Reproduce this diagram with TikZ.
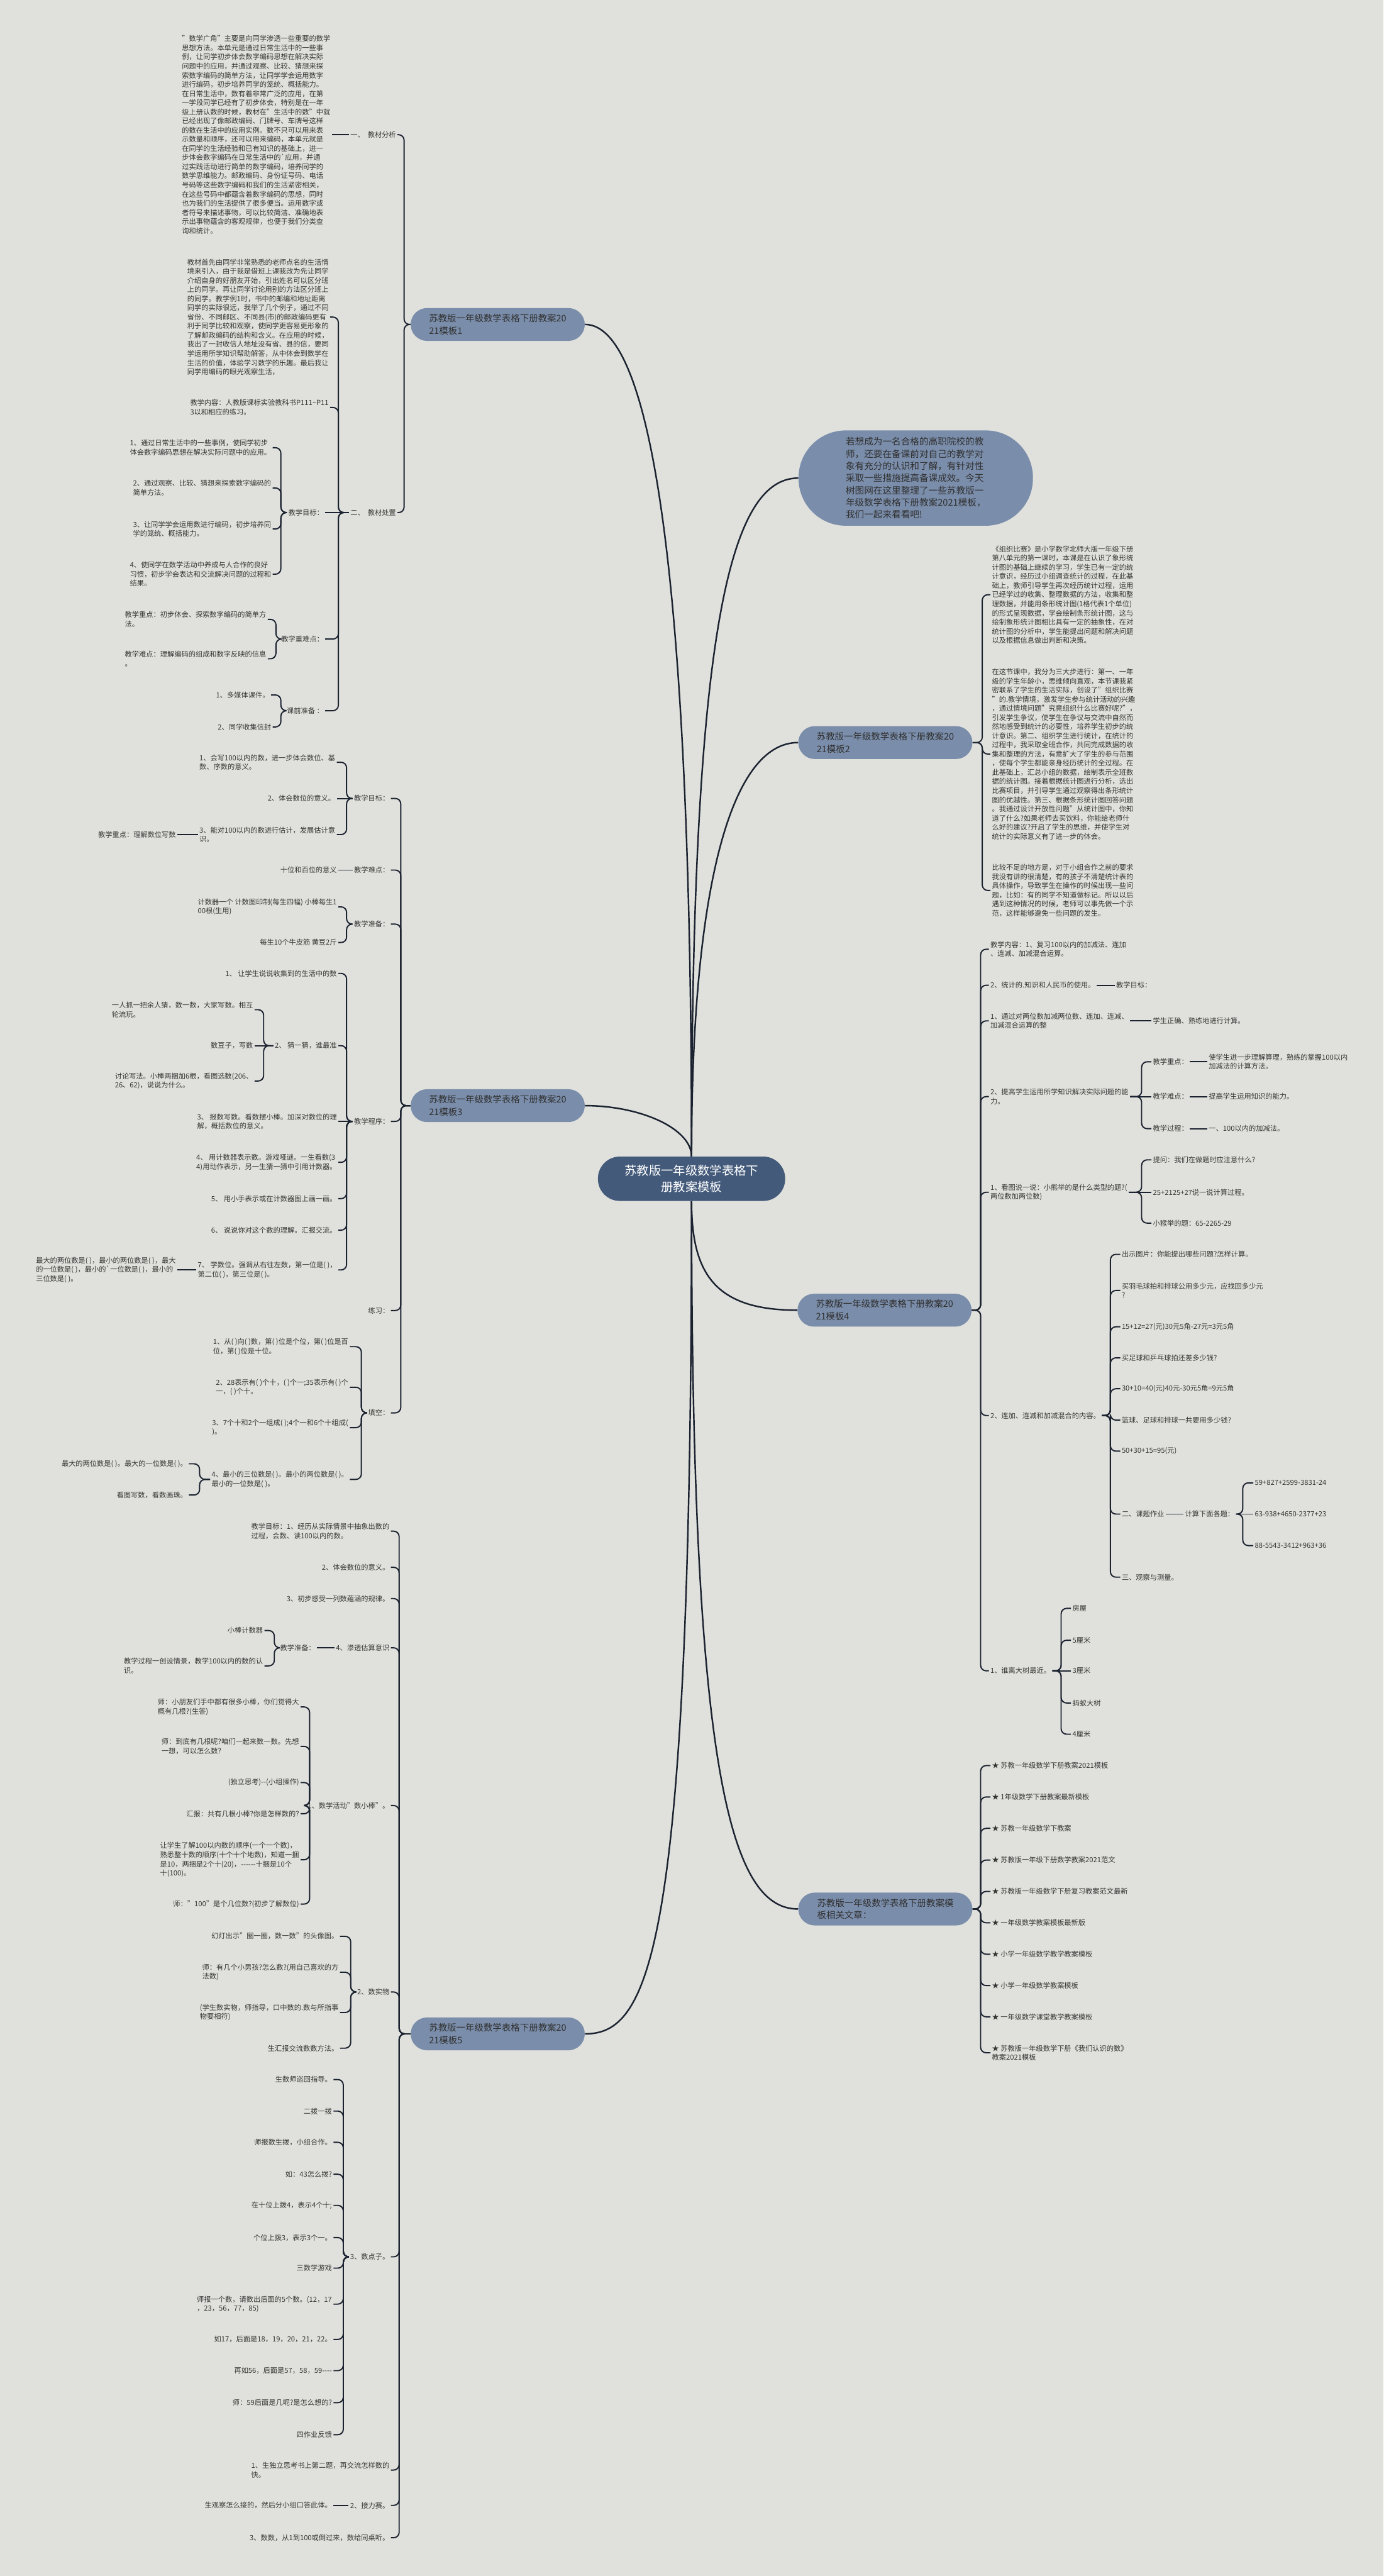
\documentclass[tikz,border=0pt]{standalone}
\usepackage{fontspec}
\setmainfont{Noto Sans CJK SC}
\usetikzlibrary{positioning,calc}

\definecolor{bgcol}{HTML}{E0E1DC}
\definecolor{rootcol}{HTML}{435A7A}
\definecolor{branchcol}{HTML}{7A8DAA}
\definecolor{linecol}{HTML}{1B2230}
\definecolor{textcol}{HTML}{353535}

\begin{document}
\begin{tikzpicture}[
    x=1.5pt, y=-1.5pt,
    rootbox/.style={fill=rootcol, text=white, rounded corners=20pt, minimum width=171pt, minimum height=40.5pt, inner sep=0pt, align=center, font=\fontsize{11.1}{15}\selectfont},
    branchbox/.style={fill=branchcol, text=textcol!90!black, rounded corners=15pt, minimum width=159pt, minimum height=30pt, inner sep=0pt, align=left, font=\fontsize{8.3}{11.4}\selectfont},
    introbox/.style={fill=branchcol, text=textcol!90!black, rounded corners=43pt, minimum width=214pt, minimum height=87pt, inner sep=0pt, align=left, font=\fontsize{8.4}{11.1}\selectfont},
    leaf/.style={text=textcol, align=left, inner xsep=1.2pt, inner ysep=0.5pt, font=\fontsize{6.45}{8.35}\selectfont},
    conn/.style={draw=linecol, line width=1.1pt, rounded corners=5pt},
    trunk/.style={draw=linecol, line width=1.4pt},
    lk/.style={to path={-| ($(\tikztotarget)+(#1,0)$) -- (\tikztotarget)}},
    lk/.default=5,
    rk/.style={to path={-| ($(\tikztotarget)+(-#1,0)$) -- (\tikztotarget)}},
    rk/.default=5
]

\useasboundingbox (0,0) rectangle (842.2,1568);
\fill[bgcol] (0,0) rectangle (842.2,1568);

% 中心主题和一级分支
\node[rootbox] (root) at (421,717.5) {苏教版一年级数学表格下\\册教案模板};
\node[introbox] (intro) at (557.5,291) {若想成为一名合格的高职院校的教\\师，还要在备课前对自己的教学对\\象有充分的认识和了解，有针对性\\采取一些措施提高备课成效。今天\\树图网在这里整理了一些苏教版一\\年级数学表格下册教案2021模板，\\我们一起来看看吧!};
\node[branchbox] (t1) at (303,197.5) {苏教版一年级数学表格下册教案20\\21模板1};
\node[branchbox] (t2) at (539,452) {苏教版一年级数学表格下册教案20\\21模板2};
\node[branchbox] (t3) at (303,673) {苏教版一年级数学表格下册教案20\\21模板3};
\node[branchbox] (t4) at (538.5,797.5) {苏教版一年级数学表格下册教案20\\21模板4};
\node[branchbox] (rel) at (539,1162) {苏教版一年级数学表格下册教案模\\板相关文章：};
\node[branchbox] (t5) at (303,1238) {苏教版一年级数学表格下册教案20\\21模板5};

\draw[trunk] (root.north) .. controls (421,420) and (405,197.5) .. (t1.east);
\draw[trunk] (root.north) .. controls (421,687) and (390,673) .. (t3.east);
\draw[trunk] (root.north) .. controls (421,380) and (445,291) .. (intro.west);
\draw[trunk] (root.north) .. controls (421,540) and (445,452) .. (t2.west);
\draw[trunk] (root.south) .. controls (421,775) and (435,797.5) .. (t4.west);
\draw[trunk] (root.south) .. controls (421,1080) and (445,1162) .. (rel.west);
\draw[trunk] (root.south) .. controls (421,1190) and (395,1238) .. (t5.east);

% 模板1
\node[leaf, anchor=east] (t1a) at (242,82) {一、\ \ 教材分析};
\node[leaf, anchor=east] (t1a1) at (202,82) {"数学广角"主要是向同学渗透一些重要的数学\\
思想方法。本单元是通过日常生活中的一些事\\
例，让同学初步体会数字编码思想在解决实际\\
问题中的应用，并通过观察、比较、猜想来探\\
索数字编码的简单方法，让同学学会运用数字\\
进行编码，初步培养同学的笼统、概括能力。\\
在日常生活中，数有着非常广泛的应用，在第\\
一学段同学已经有了初步体会，特别是在一年\\
级上册认数的时候，教材在"生活中的数"中就\\
已经出现了像邮政编码、门牌号、车牌号这样\\
的数在生活中的应用实例。数不只可以用来表\\
示数量和顺序，还可以用来编码，本单元就是\\
在同学的生活经验和已有知识的基础上，进一\\
步体会数字编码在日常生活中的\textasciigrave 应用，并通\\
过实践活动进行简单的数字编码，培养同学的\\
数学思维能力。邮政编码、身份证号码、电话\\
号码等这些数字编码和我们的生活紧密相关，\\
在这些号码中都蕴含着数字编码的思想，同时\\
也为我们的生活提供了很多便当。运用数字或\\
者符号来描述事物，可以比较简洁、准确地表\\
示出事物蕴含的客观规律，也便于我们分类查\\
询和统计。};
\node[leaf, anchor=east] (t1b) at (242,312) {二、\ \ 教材处置};
\node[leaf, anchor=east] (t1b1) at (201,193) {教材首先由同学非常熟悉的老师点名的生活情\\
境来引入，由于我是借班上课我改为先让同学\\
介绍自身的好朋友开始，引出姓名可以区分班\\
上的同学。再让同学讨论用别的方法区分班上\\
的同学。教学例1时，书中的邮编和地址距离\\
同学的实际很远，我举了几个例子，通过不同\\
省份、不同邮区、不同县(市)的邮政编码更有\\
利于同学比较和观察，使同学更容易更形象的\\
了解邮政编码的结构和含义。在应用的时候，\\
我出了一封收信人地址没有省、县的信，要同\\
学运用所学知识帮助解答，从中体会到数学在\\
生活的价值，体验学习数学的乐趣。最后我让\\
同学用编码的眼光观察生活，};
\node[leaf, anchor=east] (t1b2) at (201,248) {教学内容：人教版课标实验教科书P111\textasciitilde P11\\3以和相应的练习。};
\node[leaf, anchor=east] (t1b3) at (198,312) {教学目标：};
\node[leaf, anchor=east] (t1b3a) at (166,272.5) {1、通过日常生活中的一些事例，使同学初步\\体会数字编码思想在解决实际问题中的应用。};
\node[leaf, anchor=east] (t1b3b) at (166,297) {2、通过观察、比较、猜想来探索数字编码的\\简单方法。};
\node[leaf, anchor=east] (t1b3c) at (166,322) {3、让同学学会运用数进行编码，初步培养同\\学的笼统、概括能力。};
\node[leaf, anchor=east] (t1b3d) at (166,349.5) {4、使同学在数学活动中养成与人合作的良好\\习惯，初步学会表达和交流解决问题的过程和\\结果。};
\node[leaf, anchor=east] (t1b4) at (198,389) {教学重难点：};
\node[leaf, anchor=east] (t1b4a) at (163,377) {教学重点：初步体会、探索数字编码的简单方\\法。};
\node[leaf, anchor=east] (t1b4b) at (163,401) {教学难点：理解编码的组成和数字反映的信息\\。};
\node[leaf, anchor=east] (t1b5) at (198,432.6) {课前准备 ：};
\node[leaf, anchor=east] (t1b5a) at (165,423) {1、多媒体课件。};
\node[leaf, anchor=east] (t1b5b) at (166,442.5) {2、同学收集信封};

\draw[conn] (t1.west) to[lk=4] (t1a.east);
\draw[conn] (t1.west) to[lk=4] (t1b.east);
\draw[conn] (t1a.west) -- (t1a1.east);
\draw[conn] (t1b.west) to[lk=5] (t1b1.east);
\draw[conn] (t1b.west) to[lk=5] (t1b2.east);
\draw[conn] (t1b.west) -- (t1b3.east);
\draw[conn] (t1b.west) to[lk=8] (t1b4.east);
\draw[conn] (t1b.west) to[lk=8] (t1b5.east);
\foreach \n in {a,b,c,d} \draw[conn] (t1b3.west) to[lk=5] (t1b3\n.east);
\foreach \n in {a,b} \draw[conn] (t1b4.west) to[lk=5] (t1b4\n.east);
\draw[conn] (t1b5.west) to[lk=6] (t1b5a.east);
\draw[conn] (t1b5.west) to[lk=5] (t1b5b.east);

% 模板2
\node[leaf, anchor=west] (t2a) at (603,362) {《组织比赛》是小学数学北师大版一年级下册\\
第八单元的第一课时，本课是在认识了象形统\\
计图的基础上继续的学习，学生已有一定的统\\
计意识，经历过小组调查统计的过程，在此基\\
础上，教师引导学生再次经历统计过程，运用\\
已经学过的收集、整理数据的方法，收集和整\\
理数据，并能用条形统计图(1格代表1个单位)\\
的形式呈现数据，学会绘制条形统计图，这与\\
绘制象形统计图相比具有一定的抽象性，在对\\
统计图的分析中，学生能提出问题和解决问题\\
以及根据信息做出判断和决策。};
\node[leaf, anchor=west] (t2b) at (603,459) {在这节课中，我分为三大步进行：第一、一年\\
级的学生年龄小，思维倾向直观，本节课我紧\\
密联系了学生的生活实际，创设了"组织比赛\\
"的.教学情境，激发学生参与统计活动的兴趣\\
，通过情境问题"究竟组织什么比赛好呢?"，\\
引发学生争议，使学生在争议与交流中自然而\\
然地感受到统计的必要性，培养学生初步的统\\
计意识。第二、组织学生进行统计，在统计的\\
过程中，我采取全班合作，共同完成数据的收\\
集和整理的方法，有意扩大了学生的参与范围\\
，使每个学生都能亲身经历统计的全过程。在\\
此基础上，汇总小组的数据，绘制表示全班数\\
据的统计图。接着根据统计图进行分析，选出\\
比赛项目，并引导学生通过观察得出条形统计\\
图的优越性。第三、根据条形统计图回答问题\\
。我通过设计开放性问题"从统计图中，你知\\
道了什么?如果老师去买饮料，你能给老师什\\
么好的建议?开启了学生的思维，并使学生对\\
统计的实际意义有了进一步的体会。};
\node[leaf, anchor=west] (t2c) at (603,542) {比较不足的地方是，对于小组合作之前的要求\\
我没有讲的很清楚，有的孩子不清楚统计表的\\
具体操作，导致学生在操作的时候出现一些问\\
题，比如：有的同学不知道做标记。所以以后\\
遇到这种情况的时候，老师可以事先做一个示\\
范，这样能够避免一些问题的发生。};
\foreach \n in {a,b,c} \draw[conn] (t2.east) to[rk=5] (t2\n.west);

% 模板3
\node[leaf, anchor=east] (t3a) at (238,486) {教学目标：};
\node[leaf, anchor=east] (t3a1) at (205,464) {1、会写100以内的数，进一步体会数位、基\\数、序数的意义。};
\node[leaf, anchor=east] (t3a2) at (205,486) {2、体会数位的意义。};
\node[leaf, anchor=east] (t3a3) at (205,508) {3、能对100以内的数进行估计，发展估计意\\识。};
\node[leaf, anchor=east] (t3a3a) at (108,508) {教学重点：理解数位写数};
\node[leaf, anchor=east] (t3b) at (238,529.6) {教学难点：};
\node[leaf, anchor=east] (t3b1) at (206,529.6) {十位和百位的意义};
\node[leaf, anchor=east] (t3c) at (238,562.5) {教学准备：};
\node[leaf, anchor=east] (t3c1) at (206,552) {计数器一个 计数图印制(每生四幅) 小棒每生1\\00根(生用)};
\node[leaf, anchor=east] (t3c2) at (206,573.7) {每生10个牛皮筋 黄豆2斤};
\node[leaf, anchor=east] (t3d) at (238,682.6) {教学程序：};
\node[leaf, anchor=east] (t3d1) at (206,592.5) {1、 让学生说说收集到的生活中的数};
\node[leaf, anchor=east] (t3d2) at (206,636.5) {2、 猜一猜，谁最准};
\node[leaf, anchor=east] (t3d2a) at (155,614.6) {一人抓一把余人猜，数一数，大家写数。相互\\轮流玩。};
\node[leaf, anchor=east] (t3d2b) at (155,636.5) {数豆子，写数};
\node[leaf, anchor=east] (t3d2c) at (155,658) {讨论写法。小棒两捆加6根，看图选数(206、\\26、62)，说说为什么。};
\node[leaf, anchor=east] (t3d3) at (206,682.6) {3、 报数写数。看数摆小棒。加深对数位的理\\解，概括数位的意义。};
\node[leaf, anchor=east] (t3d4) at (206,707.5) {4、 用计数器表示数。游戏哑谜。一生看数(3\\4)用动作表示，另一生猜一猜中引用计数器。};
\node[leaf, anchor=east] (t3d5) at (206,729.6) {5、 用小手表示或在计数器图上画一画。};
\node[leaf, anchor=east] (t3d6) at (206,748.8) {6、 说说你对这个数的理解。汇报交流。};
\node[leaf, anchor=east] (t3d7) at (206,773) {7、 学数位。强调从右往左数，第一位是( )，\\第二位( )，第三位是( )。};
\node[leaf, anchor=east] (t3d7a) at (108,773) {最大的两位数是( )，最小的两位数是( )，最大\\的一位数是( )，最小的\textasciigrave 一位数是( )，最小的\\三位数是( )。};
\node[leaf, anchor=east] (t3e) at (238,797.7) {练习：};
\node[leaf, anchor=east] (t3f) at (238,860) {填空：};
\node[leaf, anchor=east] (t3f1) at (213,819.7) {1、从( )向( )数，第( )位是个位，第( )位是百\\位，第( )位是十位。};
\node[leaf, anchor=east] (t3f2) at (213,844.4) {2、28表示有( )个十，( )个一;35表示有( )个\\一，( )个十。};
\node[leaf, anchor=east] (t3f3) at (213,869) {3、7个十和2个一组成( );4个一和6个十组成(\\)。};
\node[leaf, anchor=east] (t3f4) at (213,900.5) {4、最小的三位数是( )。最小的两位数是( )。\\最小的一位数是( )。};
\node[leaf, anchor=east] (t3f4a) at (115,891) {最大的两位数是( )。最大的一位数是( )。};
\node[leaf, anchor=east] (t3f4b) at (115,910) {看图写数，看数画珠。};

\foreach \n in {a,b,c,d,e,f} \draw[conn] (t3.west) to[lk=6] (t3\n.east);
\draw[conn] (t3a.west) to[lk=6] (t3a1.east);
\draw[conn] (t3a.west) -- (t3a2.east);
\draw[conn] (t3a.west) to[lk=6] (t3a3.east);
\draw[conn] (t3a3.west) -- (t3a3a.east);
\draw[conn] (t3b.west) -- (t3b1.east);
\foreach \n in {1,2} \draw[conn] (t3c.west) to[lk=5] (t3c\n.east);
\foreach \n in {1,2,4,5,6,7} \draw[conn] (t3d.west) to[lk=5] (t3d\n.east);
\draw[conn] (t3d.west) -- (t3d3.east);
\draw[conn] (t3d2.west) to[lk=5.5] (t3d2a.east);
\draw[conn] (t3d2.west) -- (t3d2b.east);
\draw[conn] (t3d2.west) to[lk=5.5] (t3d2c.east);
\draw[conn] (t3d7.west) -- (t3d7a.east);
\foreach \n in {1,2,3,4} \draw[conn] (t3f.west) to[lk=7] (t3f\n.east);
\foreach \n in {a,b} \draw[conn] (t3f4.west) to[lk=6.5] (t3f4\n.east);

% 模板4
\node[leaf, anchor=west] (t4a) at (602,577.8) {教学内容：1、复习100以内的加减法、连加\\、连减、加减混合运算。};
\node[leaf, anchor=west] (t4b) at (602,599.7) {2、统计的.知识和人民币的使用。};
\node[leaf, anchor=west] (t4b1) at (678.6,599.7) {教学目标：};
\node[leaf, anchor=west] (t4c) at (602,621.4) {1、通过对两位数加减两位数、连加、连减、\\加减混合运算的整};
\node[leaf, anchor=west] (t4c1) at (701,621.4) {学生正确、熟练地进行计算。};
\node[leaf, anchor=west] (t4d) at (602,667.5) {2、提高学生运用所学知识解决实际问题的能\\力。};
\node[leaf, anchor=west] (t4d1) at (701,646.3) {教学重点：};
\node[leaf, anchor=west] (t4d1a) at (735,646.3) {使学生进一步理解算理，熟练的掌握100以内\\加减法的计算方法。};
\node[leaf, anchor=west] (t4d2) at (701,667.5) {教学难点：};
\node[leaf, anchor=west] (t4d2a) at (735,667.5) {提高学生运用知识的能力。};
\node[leaf, anchor=west] (t4d3) at (701,687) {教学过程：};
\node[leaf, anchor=west] (t4d3a) at (735,687) {一、100以内的加减法。};
\node[leaf, anchor=west] (t4e) at (602,725.7) {1、看图说一说：小熊举的是什么类型的题?(\\两位数加两位数)};
\node[leaf, anchor=west] (t4e1) at (701,706) {提问：我们在做题时应注意什么?};
\node[leaf, anchor=west] (t4e2) at (701,725.7) {25+2125+27说一说计算过程。};
\node[leaf, anchor=west] (t4e3) at (701,744.5) {小猴举的题：65-2265-29};
\node[leaf, anchor=west] (t4f) at (602,861.6) {2、连加、连减和加减混合的内容。};
\node[leaf, anchor=west] (t4f1) at (682,763.5) {出示图片：你能提出哪些问题?怎样计算。};
\node[leaf, anchor=west] (t4f2) at (682,785.5) {买羽毛球拍和排球公用多少元，应找回多少元\\?};
\node[leaf, anchor=west] (t4f3) at (682,807.6) {15+12=27(元)30元5角-27元=3元5角};
\node[leaf, anchor=west] (t4f4) at (682,826.5) {买足球和乒乓球拍还差多少钱?};
\node[leaf, anchor=west] (t4f5) at (682,845.3) {30+10=40(元)40元-30元5角=9元5角};
\node[leaf, anchor=west] (t4f6) at (682,864.4) {篮球、足球和排球一共要用多少钱?};
\node[leaf, anchor=west] (t4f7) at (682,883.3) {50+30+15=95(元)};
\node[leaf, anchor=west] (t4f8) at (682,921.6) {二、课题作业};
\node[leaf, anchor=west] (t4f8a) at (720.5,921.6) {计算下面各题：};
\node[leaf, anchor=west] (t4f8a1) at (763,902.6) {59+827+2599-3831-24};
\node[leaf, anchor=west] (t4f8a2) at (763,921.6) {63-938+4650-2377+23};
\node[leaf, anchor=west] (t4f8a3) at (763,940.8) {88-5543-3412+963+36};
\node[leaf, anchor=west] (t4f9) at (682,960) {三、观察与测量。};
\node[leaf, anchor=west] (t4g) at (602,1017) {1、谁离大树最近。};
\node[leaf, anchor=west] (t4g1) at (652,979) {房屋};
\node[leaf, anchor=west] (t4g2) at (652,998.4) {5厘米};
\node[leaf, anchor=west] (t4g3) at (652,1017) {3厘米};
\node[leaf, anchor=west] (t4g4) at (652,1036.6) {蚂蚁大树};
\node[leaf, anchor=west] (t4g5) at (652,1055.6) {4厘米};

\foreach \n in {a,b,c,d,e,f,g} \draw[conn] (t4.east) to[rk=5] (t4\n.west);
\draw[conn] (t4b.east) -- (t4b1.west);
\draw[conn] (t4c.east) -- (t4c1.west);
\draw[conn] (t4d.east) to[rk=6] (t4d1.west);
\draw[conn] (t4d.east) -- (t4d2.west);
\draw[conn] (t4d.east) to[rk=6] (t4d3.west);
\foreach \n in {1,2,3} \draw[conn] (t4d\n.east) -- (t4d\n a.west);
\draw[conn] (t4e.east) to[rk=6] (t4e1.west);
\draw[conn] (t4e.east) -- (t4e2.west);
\draw[conn] (t4e.east) to[rk=6] (t4e3.west);
\foreach \n in {1,...,9} \draw[conn] (t4f.east) to[rk=6] (t4f\n.west);
\draw[conn] (t4f8.east) -- (t4f8a.west);
\draw[conn] (t4f8a.east) to[rk=6.4] (t4f8a1.west);
\draw[conn] (t4f8a.east) -- (t4f8a2.west);
\draw[conn] (t4f8a.east) to[rk=6.4] (t4f8a3.west);
\foreach \n in {1,2,4,5} \draw[conn] (t4g.east) to[rk=6] (t4g\n.west);
\draw[conn] (t4g.east) -- (t4g3.west);

% 相关文章
\node[leaf, anchor=west] (rel1) at (603,1074.7) {★ 苏教一年级数学下册教案2021模板};
\node[leaf, anchor=west] (rel2) at (603,1093.8) {★ 1年级数学下册教案最新模板};
\node[leaf, anchor=west] (rel3) at (603,1112.9) {★ 苏教一年级数学下教案};
\node[leaf, anchor=west] (rel4) at (603,1132.2) {★ 苏教版一年级下册数学教案2021范文};
\node[leaf, anchor=west] (rel5) at (603,1151.3) {★ 苏教版一年级数学下册复习教案范文最新};
\node[leaf, anchor=west] (rel6) at (603,1170.4) {★ 一年级数学教案模板最新版};
\node[leaf, anchor=west] (rel7) at (603,1189.5) {★ 小学一年级数学教学教案模板};
\node[leaf, anchor=west] (rel8) at (603,1208.6) {★ 小学一年级数学教案模板};
\node[leaf, anchor=west] (rel9) at (603,1227.6) {★ 一年级数学课堂教学教案模板};
\node[leaf, anchor=west] (rel10) at (603,1249.5) {★ 苏教版一年级数学下册《我们认识的数》\\教案2021模板};
\foreach \n in {1,...,10} \draw[conn] (rel.east) to[rk=6] (rel\n.west);

% 模板5
\node[leaf, anchor=east] (t5a) at (238,932) {教学目标：1、经历从实际情景中抽象出数的\\过程，会数、读100以内的数。};
\node[leaf, anchor=east] (t5b) at (238,954) {2、体会数位的意义。};
\node[leaf, anchor=east] (t5c) at (238,973) {3、初步感受一列数蕴涵的规律。};
\node[leaf, anchor=east] (t5d) at (238,1003) {4、渗透估算意识};
\node[leaf, anchor=east] (t5d1) at (193,1003) {教学准备：};
\node[leaf, anchor=east] (t5d1a) at (161,992.5) {小棒计数器};
\node[leaf, anchor=east] (t5d1b) at (161,1014) {教学过程一创设情景，教学100以内的数的认\\识。};
\node[leaf, anchor=east] (t5e) at (238,1099) {1、数学活动"数小棒"。};
\node[leaf, anchor=east] (t5e1) at (183,1039) {师：小朋友们手中都有很多小棒，你们觉得大\\概有几根?(生答)};
\node[leaf, anchor=east] (t5e2) at (183,1063) {师：到底有几根呢?咱们一起来数一数。先想\\一想，可以怎么数?};
\node[leaf, anchor=east] (t5e3) at (183,1085) {(独立思考)-{}-(小组操作)};
\node[leaf, anchor=east] (t5e4) at (183,1104) {汇报：共有几根小棒?你是怎样数的?};
\node[leaf, anchor=east] (t5e5) at (183,1132) {让学生了解100以内数的顺序(一个一个数)，\\熟悉整十数的顺序(十个十个地数)，知道一捆\\是10，两捆是2个十(20)，-{}-{}-{}-{}-{}-十捆是10个\\十(100)。};
\node[leaf, anchor=east] (t5e6) at (183,1159) {师："100"是个几位数?(初步了解数位)};
\node[leaf, anchor=east] (t5f) at (238,1212.5) {2、数实物};
\node[leaf, anchor=east] (t5f1) at (207,1178.6) {幻灯出示"圈一圈，数一数"的头像图。};
\node[leaf, anchor=east] (t5f2) at (207,1200.5) {师：有几个小男孩?怎么数?(用自己喜欢的方\\法数)};
\node[leaf, anchor=east] (t5f3) at (207,1225) {(学生数实物，师指导，口中数的.数与所指事\\物要相符)};
\node[leaf, anchor=east] (t5f4) at (207,1246.7) {生汇报交流数数方法。};
\node[leaf, anchor=east] (t5g) at (238,1373.7) {3、数点子。};
\node[leaf, anchor=east] (t5g1) at (203,1265.8) {生数师巡回指导。};
\node[leaf, anchor=east] (t5g2) at (203,1285) {二拨一拨};
\node[leaf, anchor=east] (t5g3) at (203,1304) {师报数生拨，小组合作。};
\node[leaf, anchor=east] (t5g4) at (203,1323.4) {如：43怎么拨?};
\node[leaf, anchor=east] (t5g5) at (203,1342.4) {在十位上拨4，表示4个十;};
\node[leaf, anchor=east] (t5g6) at (203,1362) {个位上拨3，表示3个一。};
\node[leaf, anchor=east] (t5g7) at (203,1380.6) {三数学游戏};
\node[leaf, anchor=east] (t5g8) at (203,1402.5) {师报一个数，请数出后面的5个数。(12，17\\，23，56，77，85)};
\node[leaf, anchor=east] (t5g9) at (203,1424) {如17，后面是18，19，20，21，22。};
\node[leaf, anchor=east] (t5g10) at (203,1443) {再如56，后面是57，58，59-{}-{}-{}-};
\node[leaf, anchor=east] (t5g11) at (203,1462.5) {师：59后面是几呢?是怎么想的?};
\node[leaf, anchor=east] (t5g12) at (203,1482) {四作业反馈};
\node[leaf, anchor=east] (t5h) at (238,1503.5) {1、生独立思考书上第二题，再交流怎样数的\\快。};
\node[leaf, anchor=east] (t5i) at (238,1525) {2、接力赛。};
\node[leaf, anchor=east] (t5i1) at (203,1525) {生观察怎么接的，然后分小组口答此体。};
\node[leaf, anchor=east] (t5j) at (238,1544.7) {3、数数，从1到100或倒过来，数给同桌听。};

\foreach \n in {a,b,c,d,e,f,g,h,i,j} \draw[conn] (t5.west) to[lk=5] (t5\n.east);
\draw[conn] (t5d.west) -- (t5d1.east);
\foreach \n in {a,b} \draw[conn] (t5d1.west) to[lk=6] (t5d1\n.east);
\foreach \n in {1,...,6} \draw[conn] (t5e.west) to[lk=5.5] (t5e\n.east);
\foreach \n in {1,...,4} \draw[conn] (t5f.west) to[lk=6.5] (t5f\n.east);
\foreach \n in {1,...,12} \draw[conn] (t5g.west) to[lk=6] (t5g\n.east);
\draw[conn] (t5i.west) -- (t5i1.east);

\end{tikzpicture}
\end{document}
